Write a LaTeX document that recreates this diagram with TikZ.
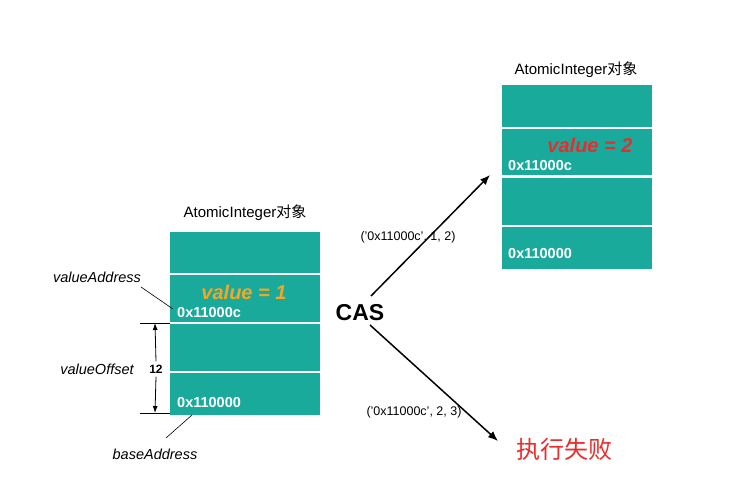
\documentclass[tikz,border=0pt]{standalone}
\usepackage{fontspec}
\setmainfont{Liberation Sans}
\newfontfamily\cjk{Noto Sans CJK SC}
\usetikzlibrary{arrows.meta}
\definecolor{teal1}{RGB}{26,170,155}
\definecolor{orng}{RGB}{245,166,35}
\definecolor{redv}{RGB}{232,45,45}
\begin{document}
\begin{tikzpicture}[x=1pt,y=-1pt,
  cell/.style={fill=teal1,draw=none},
  addr/.style={font=\fontsize{14.5}{16}\selectfont\bfseries,text=white,anchor=west,inner sep=0},
  title/.style={font=\fontsize{15}{17}\selectfont,anchor=center},
  lbl/.style={font=\fontsize{14.5}{16}\selectfont\itshape,anchor=center},
  thin/.style={draw=black,line width=0.6pt},
  arr/.style={draw=black,line width=1.5pt,-{Latex[length=10pt,width=8pt]}},
  dim/.style={draw=black,line width=0.8pt}]
\useasboundingbox (0,0) rectangle (750,489);
% left object
\fill[cell] (170,232) rectangle (320,273);
\fill[cell] (170,275) rectangle (320,322);
\fill[cell] (170,324) rectangle (320,371);
\fill[cell] (170,373) rectangle (320,415);
\node[title] (lt) at (245,213) {Atomic\kern0.2pt Integer{\cjk 对象}};
\node[font=\fontsize{20}{22}\selectfont\bfseries\itshape,text=orng] (lv) at (244,292) {value = 1};
\node[addr] (la) at (177,313) {0x11000c};
\node[addr] (lb) at (177,403) {0x110000};
% right object
\fill[cell] (502,85) rectangle (652,127);
\fill[cell] (502,129) rectangle (652,175);
\fill[cell] (502,178) rectangle (652,225);
\fill[cell] (502,227) rectangle (652,269);
\node[title] (rt) at (576,70) {Atomic\kern0.2pt Integer{\cjk 对象}};
\node[font=\fontsize{20}{22}\selectfont\bfseries\itshape,text=redv] (rv) at (590,145) {value = 2};
\node[addr] (ra) at (508,166) {0x11000c};
\node[addr] (rb) at (508,254) {0x110000};
% annotations
\node[lbl] (va) at (97,277) {valueAddress};
\node[lbl] (vo) at (97,369) {valueOffset};
\node[lbl] (ba) at (155,454) {baseAddress};
\node[font=\fontsize{12}{14}\selectfont\bfseries] (tw) at (156,369) {12};
\coordinate (vaS) at (141,287);
\coordinate (vaE) at (173,309);
\draw[thin] (vaS) -- (vaE);
\coordinate (baS) at (166,438);
\coordinate (baE) at (192,415);
\draw[thin] (baS) -- (baE);
\coordinate (d1a) at (140,323);
\coordinate (d1b) at (170,323);
\coordinate (d2a) at (140,413);
\coordinate (d2b) at (170,413);
\draw[thin] (d1a) -- (d1b);
\draw[thin] (d2a) -- (d2b);
\coordinate (ta) at (155,323);
\coordinate (tb) at (155,413);
\draw[dim,-{Latex[length=7pt,width=5pt]}] (tw.north) -- (ta);
\draw[dim,-{Latex[length=7pt,width=5pt]}] (tw.south) -- (tb);
% CAS
\node[font=\fontsize{23}{25}\selectfont\bfseries] (cas) at (360,313) {CAS};
\coordinate (a1s) at (371,296);
\coordinate (a1e) at (490,175);
\draw[arr] (a1s) -- (a1e);
\coordinate (a2s) at (370,325);
\coordinate (a2e) at (498,441);
\draw[arr] (a2s) -- (a2e);
\node[font=\fontsize{12.5}{14}\selectfont] (l1) at (408,237) {('0x11000c', 1, 2)};
\node[font=\fontsize{12.5}{14}\selectfont] (l2) at (414,412) {('0x11000c', 2, 3)};
\node[font=\fontsize{24}{26}\selectfont\cjk,text=redv] (fail) at (564,449) {执行失败};
\end{tikzpicture}
\end{document}
